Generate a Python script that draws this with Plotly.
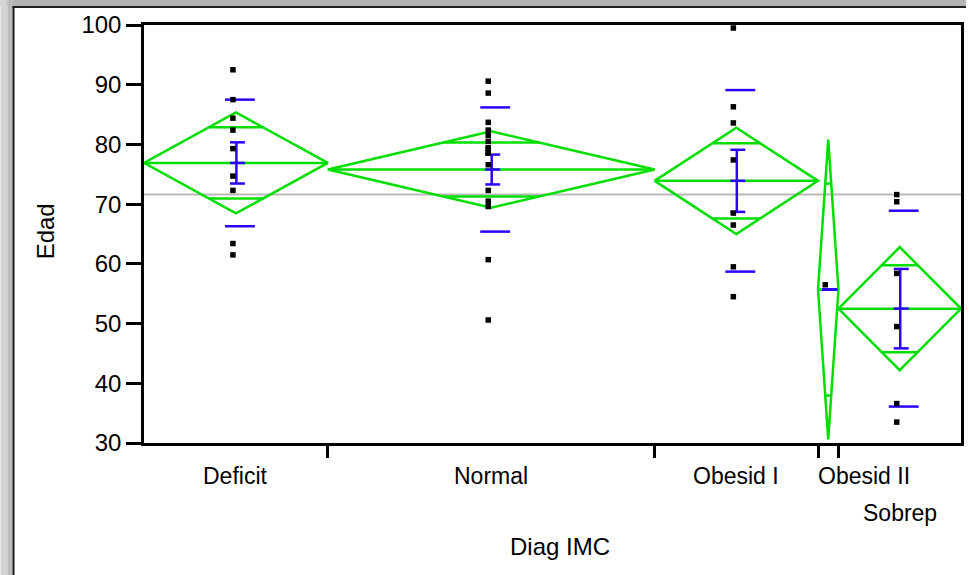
import plotly.graph_objects as go

# ---------------- data ----------------
categories = ["Deficit", "Normal", "Obesid I", "Obesid II", "Sobrep"]
counts = [9, 16, 8, 1, 6]
group_means = [76.9, 75.8, 73.9, 55.7, 52.5]
ci95_half = [8.45, 6.4, 8.9, 25.1, 10.3]
std_devs = [10.6, 10.4, 15.2, None, 16.4]
std_errs = [3.45, 2.5, 5.2, 0.0, 6.65]
grand_mean = 71.6

ages = {
    "Deficit": [92.5, 87.5, 84.4, 82.4, 79.3, 74.7, 72.3, 63.4, 61.5],
    "Normal": [90.6, 88.6, 83.7, 82.4, 81.5, 80.5, 79.4, 79.4, 78.6, 78.6,
               76.6, 72.3, 70.5, 69.6, 60.7, 50.6],
    "Obesid I": [99.5, 86.3, 83.6, 77.4, 68.5, 66.5, 59.5, 54.5],
    "Obesid II": [56.5],
    "Sobrep": [71.6, 70.4, 58.4, 49.5, 36.6, 33.5],
}

y_ticks = [30, 40, 50, 60, 70, 80, 90, 100]

# ---------------- layout constants ----------------
W, H = 969, 575
ML, MR, MT, MB = 144, 5, 25, 132
PW = W - ML - MR
PH = H - MT - MB
total = sum(counts)
PX = total / PW  # data units per pixel on x

GREEN = "rgb(0,222,0)"
BLUE = "rgb(45,0,255)"
FONT = "Liberation Sans, Arial, sans-serif"
LBL = 23

starts = []
acc = 0
for n in counts:
    starts.append(acc)
    acc += n
ends = [s + n for s, n in zip(starts, counts)]
centers = [(s + e) / 2 for s, e in zip(starts, ends)]

fig = go.Figure()

# grand mean line
fig.add_trace(go.Scatter(x=[0, total], y=[grand_mean, grand_mean], mode="lines",
                         line=dict(color="rgb(185,185,185)", width=2),
                         hoverinfo="skip", showlegend=False))

# means diamonds
dx, dy = [], []
for s, e, c, n, m, h in zip(starts, ends, centers, counts, group_means, ci95_half):
    dx += [s, c, e, c, s, None, s, e, None]
    dy += [m, m + h, m, m - h, m, None, m, m, None]
    ov = h / 2 ** 0.5
    hw = (1 - 1 / 2 ** 0.5) * n / 2
    dx += [c - hw, c + hw, None, c - hw, c + hw, None]
    dy += [m + ov, m + ov, None, m - ov, m - ov, None]
fig.add_trace(go.Scatter(x=dx, y=dy, mode="lines",
                         line=dict(color=GREEN, width=2.5),
                         hoverinfo="skip", showlegend=False))

# std dev lines and mean error bars
bx, by = [], []
for c, m, sd, se in zip(centers, group_means, std_devs, std_errs):
    if sd is not None:
        sc = c + 4 * PX
        for v in (m + sd, m - sd):
            bx += [sc - 15 * PX, sc + 15 * PX, None]
            by += [v, v, None]
    cc = c + 1.5 * PX
    for v in (m + se, m, m - se):
        bx += [cc - 7.5 * PX, cc + 7.5 * PX, None]
        by += [v, v, None]
    if se > 0:
        bx += [c + 0.5 * PX, c + 0.5 * PX, None]
        by += [m + se, m - se, None]
fig.add_trace(go.Scatter(x=bx, y=by, mode="lines",
                         line=dict(color=BLUE, width=2.5),
                         hoverinfo="skip", showlegend=False))

# data points
px_, py_ = [], []
for cat, c in zip(categories, centers):
    for v in ages[cat]:
        px_.append(c - 3 * PX)
        py_.append(v)
fig.add_trace(go.Scatter(x=px_, y=py_, mode="markers",
                         marker=dict(color="black", size=5.5, symbol="square"),
                         hoverinfo="skip", showlegend=False))

# category labels
annotations = []
for cat, c, s in zip(categories, centers, starts):
    if cat == "Obesid II":
        annotations.append(dict(x=s, xref="x", y=0, yref="paper", text=cat,
                                showarrow=False, xanchor="left", yanchor="middle",
                                yshift=-33, xshift=-2,
                                font=dict(family=FONT, size=LBL, color="black")))
    elif cat == "Sobrep":
        annotations.append(dict(x=c, xref="x", y=0, yref="paper", text=cat,
                                showarrow=False, xanchor="center", yanchor="middle",
                                yshift=-70,
                                font=dict(family=FONT, size=LBL, color="black")))
    else:
        annotations.append(dict(x=c, xref="x", y=0, yref="paper", text=cat,
                                showarrow=False, xanchor="center", yanchor="middle",
                                yshift=-33,
                                font=dict(family=FONT, size=LBL, color="black")))

annotations.append(dict(x=(562 - ML) / PW, xref="paper", y=-(546 - MT - PH) / PH,
                        yref="paper", text="Diag IMC", showarrow=False,
                        xanchor="center", yanchor="middle",
                        font=dict(family=FONT, size=24, color="black")))
annotations.append(dict(x=(45 - ML) / PW, xref="paper", y=(MT + PH - 231) / PH,
                        yref="paper", text="Edad", showarrow=False, textangle=-90,
                        xanchor="center", yanchor="middle",
                        font=dict(family=FONT, size=24, color="black")))

# window frame decorations
def px2x(p):
    return (p - ML) / PW

def py2y(p):
    return (MT + PH - p) / PH

shapes = [
    dict(type="rect", xref="paper", yref="paper", x0=px2x(0), x1=px2x(W),
         y0=py2y(0), y1=py2y(6), fillcolor="rgb(180,180,180)", line=dict(width=0),
         layer="below"),
    dict(type="rect", xref="paper", yref="paper", x0=px2x(0), x1=px2x(7),
         y0=py2y(0), y1=py2y(H), fillcolor="rgb(212,212,212)", line=dict(width=0),
         layer="below"),
    dict(type="rect", xref="paper", yref="paper", x0=px2x(7), x1=px2x(12),
         y0=py2y(0), y1=py2y(H), fillcolor="rgb(188,188,188)", line=dict(width=0),
         layer="below"),
    dict(type="line", xref="paper", yref="paper", x0=px2x(13), x1=px2x(13),
         y0=py2y(6), y1=py2y(H), line=dict(color="rgb(20,20,20)", width=2)),
    dict(type="line", xref="paper", yref="paper", x0=px2x(12), x1=px2x(W),
         y0=py2y(7), y1=py2y(7), line=dict(color="rgb(30,30,30)", width=2)),
]

fig.update_layout(
    width=W, height=H,
    margin=dict(l=ML, r=MR, t=MT, b=MB, pad=0),
    paper_bgcolor="white", plot_bgcolor="white",
    showlegend=False,
    annotations=annotations,
    shapes=shapes,
    xaxis=dict(range=[0, total], showgrid=False, zeroline=False,
               showline=True, linecolor="black", linewidth=2.5, mirror=True,
               tickmode="array", tickvals=ends[:-1], ticktext=[""] * (len(ends) - 1),
               ticks="outside", ticklen=12, tickwidth=2.5, tickcolor="black"),
    yaxis=dict(range=[30, 100], showgrid=False, zeroline=False,
               showline=True, linecolor="black", linewidth=2.5, mirror=True,
               tickmode="array", tickvals=y_ticks, ticktext=[str(t) for t in y_ticks],
               ticks="outside", ticklen=15, tickwidth=2.5, tickcolor="black",
               tickfont=dict(family=FONT, size=24, color="black")),
)

fig.write_html("out.html")
